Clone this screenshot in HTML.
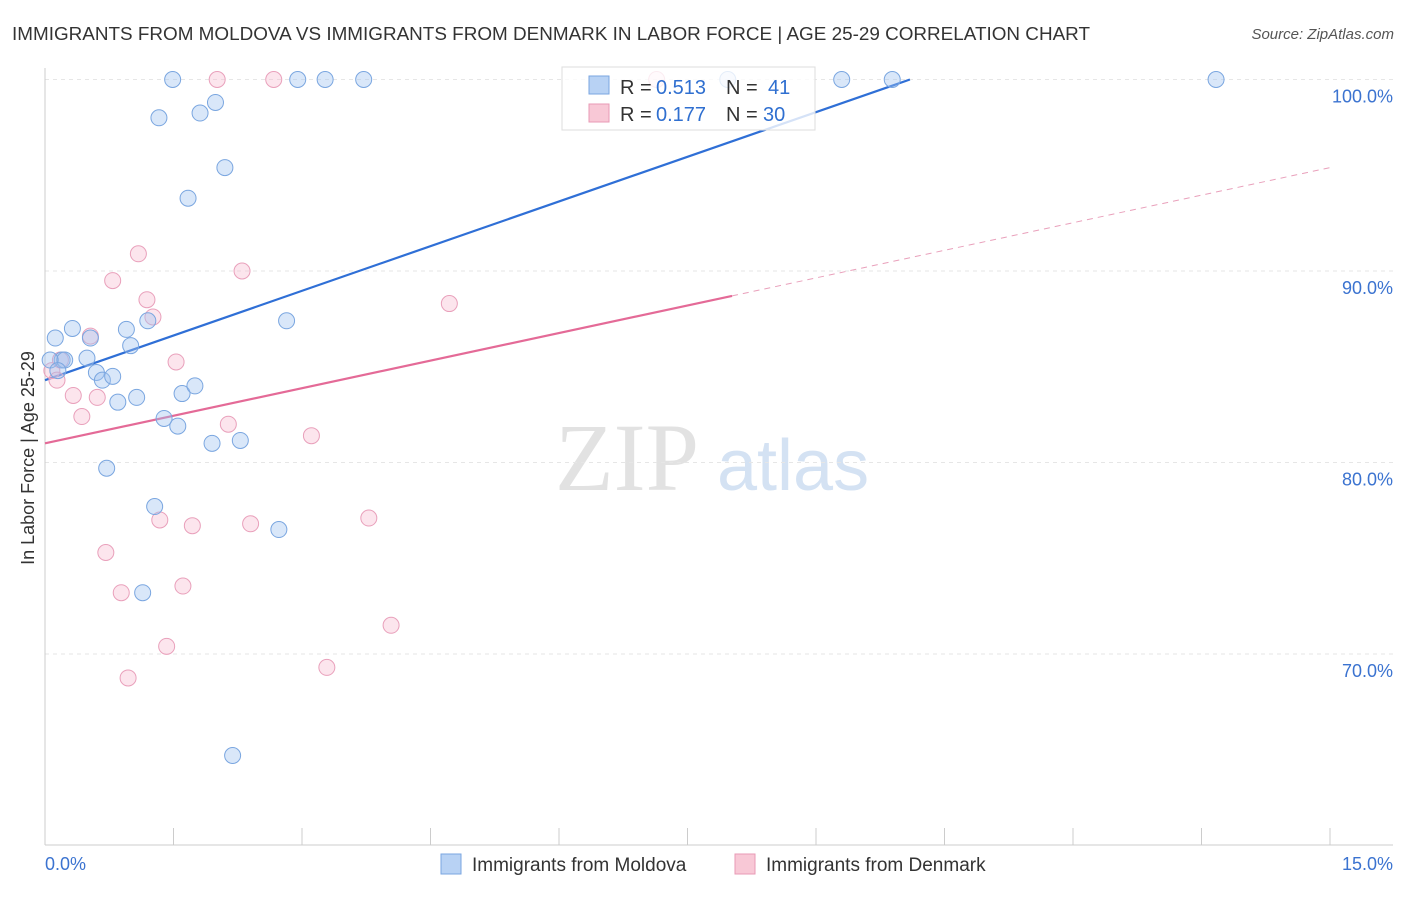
<!DOCTYPE html>
<html><head><meta charset="utf-8"><style>
body{margin:0;background:#fff;font-family:"Liberation Sans",sans-serif;}
</style></head><body>
<svg width="1406" height="892" xmlns="http://www.w3.org/2000/svg">
<text x="12" y="40" font-size="18" fill="#333" textLength="1078" lengthAdjust="spacingAndGlyphs">IMMIGRANTS FROM MOLDOVA VS IMMIGRANTS FROM DENMARK IN LABOR FORCE | AGE 25-29 CORRELATION CHART</text>
<text x="1394" y="39" font-size="15" fill="#555" font-style="italic" text-anchor="end">Source: ZipAtlas.com</text>
<text transform="translate(34,458) rotate(-90)" font-size="18" fill="#333" text-anchor="middle">In Labor Force | Age 25-29</text>
<g><text x="555" y="490" font-size="96" fill="#e2e2e2" font-family="Liberation Serif,serif">ZIP</text><text x="717" y="490" font-size="72" fill="#d4e2f3">atlas</text></g>
<g id="grid"></g><g id="axes"></g><g id="lines"></g><g id="pts"></g>
<g>
<rect x="562" y="67" width="253" height="63" fill="rgba(255,255,255,0.8)" stroke="#ddd"/>
<rect x="589" y="76" width="20" height="18" fill="#b8d2f4" stroke="#7aa6e0"/>
<text x="620" y="94" font-size="20" fill="#333">R =</text>
<text x="656" y="94" font-size="20" fill="#2f6fd0">0.513</text>
<text x="726" y="94" font-size="20" fill="#333">N =</text>
<text x="768" y="94" font-size="20" fill="#2f6fd0">41</text>
<rect x="589" y="104" width="20" height="18" fill="#f8c8d6" stroke="#e89ab5"/>
<text x="620" y="121" font-size="20" fill="#333">R =</text>
<text x="656" y="121" font-size="20" fill="#2f6fd0">0.177</text>
<text x="726" y="121" font-size="20" fill="#333">N =</text>
<text x="763" y="121" font-size="20" fill="#2f6fd0">30</text>
</g>
<g>
<rect x="441" y="854" width="20" height="20" fill="#b8d2f4" stroke="#7aa6e0"/>
<text x="472" y="871" font-size="19" fill="#333">Immigrants from Moldova</text>
<rect x="735" y="854" width="20" height="20" fill="#f8c8d6" stroke="#e89ab5"/>
<text x="766" y="871" font-size="19" fill="#333">Immigrants from Denmark</text>
</g>
</svg>
<script>
const yTicks=[70,80,90,100];
const yTickLabels=["70.0%","80.0%","90.0%","100.0%"];
const xEndLabels=["0.0%","15.0%"];
const blueX=[0.12,0.32,0.20,0.49,0.53,0.60,0.67,0.79,0.85,0.95,1.00,1.07,0.72,1.20,1.14,1.28,1.33,1.39,1.49,1.55,1.60,1.67,1.75,1.81,1.95,1.99,2.10,2.19,2.28,2.73,2.82,2.95,3.27,3.72,7.97,9.30,9.89,13.67,0.23,0.06,0.15];
const blueY=[86.5,87.0,85.35,85.45,86.5,84.7,84.3,84.5,83.15,86.95,86.1,83.4,79.7,87.4,73.2,77.7,98.0,82.3,100,81.9,83.6,93.8,84.0,98.25,81.0,98.8,95.4,64.7,81.15,76.5,87.4,100,100,100,100,100,100,100,85.35,85.35,84.8];
const pinkX=[0.08,0.14,0.33,0.43,0.53,0.61,0.71,0.79,0.89,0.97,1.09,1.19,1.26,1.34,1.42,1.53,1.61,1.72,2.01,2.14,2.30,2.40,2.67,3.11,3.29,3.78,4.04,4.72,7.14,0.18];
const pinkY=[84.8,84.3,83.5,82.4,86.6,83.4,75.3,89.5,73.2,68.75,90.9,88.5,87.6,77.0,70.4,85.25,73.55,76.7,100,82.0,90.0,76.8,100,81.4,69.3,77.1,71.5,88.3,100,85.35];
const blueTrend=[84.3,1.555];
const pinkTrend=[81.0,0.96];
const ns="http://www.w3.org/2000/svg";
const X=v=>45+v/15*1285;
const Y=v=>79.5+(100-v)*19.15;
function mk(tag,attrs,parent){const e=document.createElementNS(ns,tag);for(const k in attrs)e.setAttribute(k,attrs[k]);document.getElementById(parent).appendChild(e);return e;}
yTicks.forEach((t,i)=>{
 const g=mk('line',{x1:45,x2:1393,y1:Y(t),y2:Y(t),stroke:'#e6e6e6','stroke-dasharray':'4,4'},'grid');
 
 
 const l=mk('text',{x:1393,y:Y(t)+23,'font-size':18,fill:'#3b73d0','text-anchor':'end'},'grid');
 l.textContent=yTickLabels[i];
 
 
});
const ax=mk('line',{x1:45,x2:45,y1:68,y2:845,stroke:'#ccc'},'axes');


const bx=mk('line',{x1:45,x2:1393,y1:845,y2:845,stroke:'#ccc'},'axes');


for(let i=0;i<=10;i++){const t=mk('line',{x1:X(i*1.5),x2:X(i*1.5),y1:828,y2:845,stroke:'#ccc'},'axes');
 
 }
const xl0=mk('text',{x:45,y:870,'font-size':18,fill:'#3b73d0'},'axes');xl0.textContent=xEndLabels[0];


const xl1=mk('text',{x:1393,y:870,'font-size':18,fill:'#3b73d0','text-anchor':'end'},'axes');xl1.textContent=xEndLabels[1];


function pts(xs,ys,fill,stroke,name){xs.forEach((x,i)=>{const c=mk('circle',{cx:X(x),cy:Y(ys[i]),r:8,fill:fill,stroke:stroke,'stroke-width':1},'pts');
 
 });}
pts(pinkX,pinkY,'rgba(246,180,202,0.35)','#e9a0bb','denmark-point');
pts(blueX,blueY,'rgba(160,195,240,0.4)','#7aa6e0','moldova-point');
const bEnd=(100-blueTrend[0])/blueTrend[1];
const bl=mk('line',{x1:X(0),y1:Y(blueTrend[0]),x2:X(bEnd),y2:Y(100),stroke:'#2f6fd6','stroke-width':2.2},'lines');


const pl=mk('line',{x1:X(0),y1:Y(pinkTrend[0]),x2:X(8.02),y2:Y(pinkTrend[0]+pinkTrend[1]*8.02),stroke:'#e46a97','stroke-width':2.2},'lines');


const pd=mk('line',{x1:X(8.02),y1:Y(pinkTrend[0]+pinkTrend[1]*8.02),x2:X(15),y2:Y(pinkTrend[0]+pinkTrend[1]*15),stroke:'#e9a0bb','stroke-width':1,'stroke-dasharray':'6,5'},'lines');


</script>
</body></html>
